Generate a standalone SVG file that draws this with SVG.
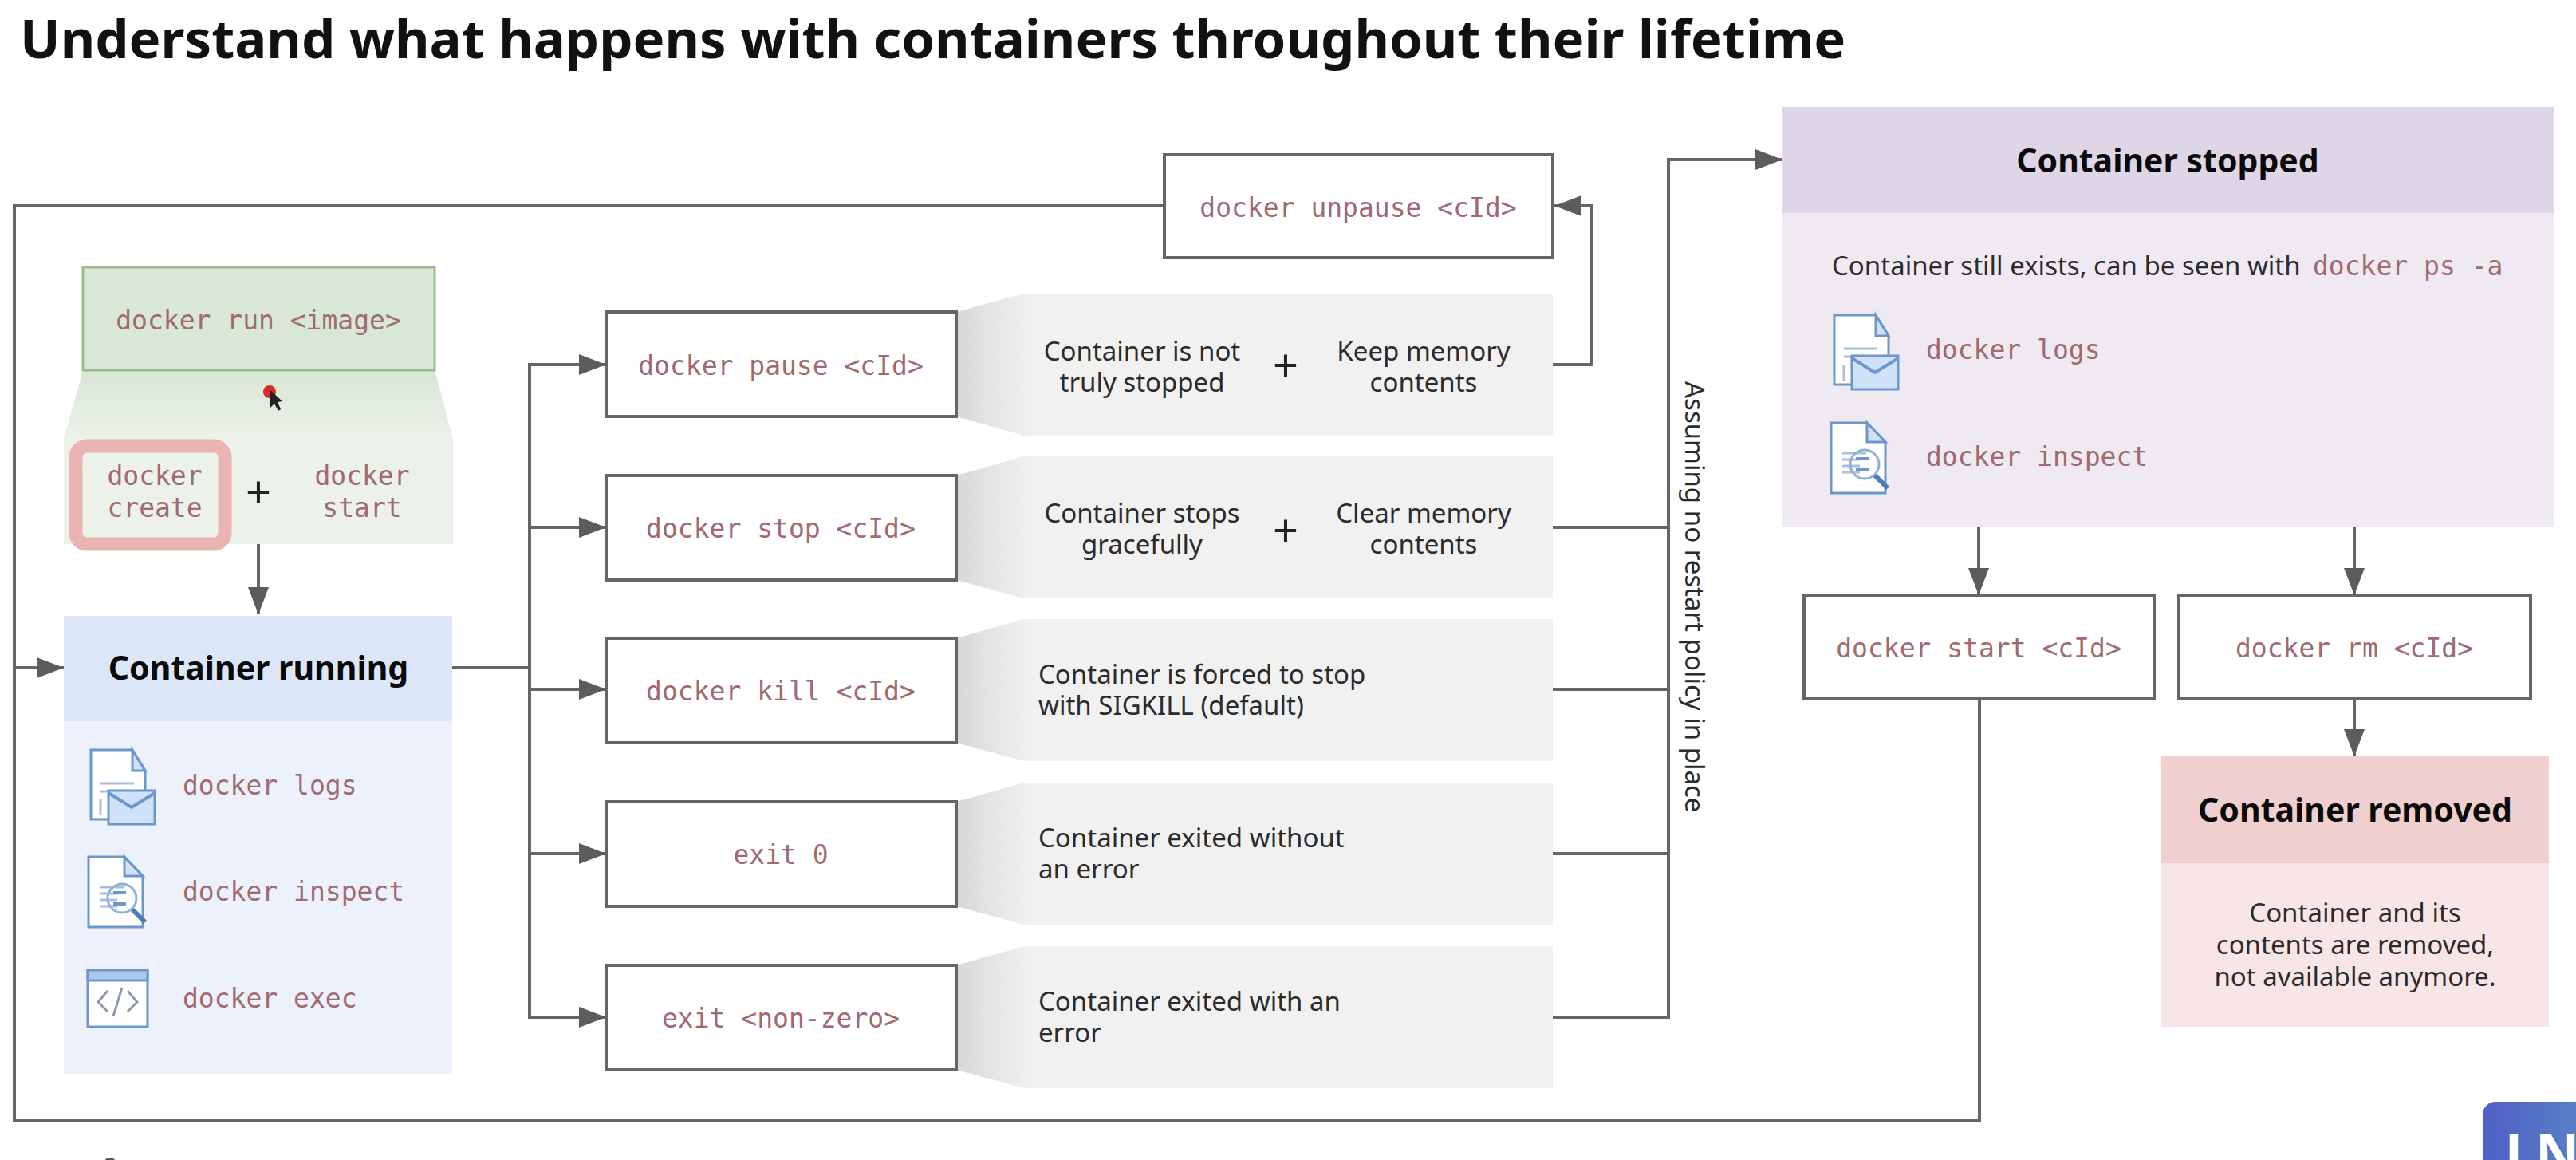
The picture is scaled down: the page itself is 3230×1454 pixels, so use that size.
<svg xmlns="http://www.w3.org/2000/svg" width="3230" height="1454" viewBox="0 0 3230 1454">
<style>
.mono{font-family:"DejaVu Sans Mono","Liberation Mono",monospace;font-size:33px;fill:#a06a6e}
.body{font-family:"Noto Sans","Open Sans",sans-serif;font-size:33px;fill:#2b2b2b}
.head{font-family:"Noto Sans","Open Sans",sans-serif;font-weight:700;font-size:41px;fill:#0a0a0a;text-anchor:middle}
.mid{text-anchor:middle}
.box{fill:#fff;stroke:#666;stroke-width:4}
.conn{fill:none;stroke:#666;stroke-width:4}
.plus{font-family:"Noto Sans",sans-serif;font-size:56px;fill:#222;text-anchor:middle}
.ic{fill:#fff;stroke:#6c97c9;stroke-width:3}
.icf{fill:#cfe2fa;stroke:#6c97c9;stroke-width:3}
.icl{fill:none;stroke:#a9bfdb;stroke-width:3}
</style>
<defs>
<marker id="arr" markerUnits="userSpaceOnUse" markerWidth="34" markerHeight="26" refX="34" refY="13" orient="auto"><path d="M0 0L34 13L0 26Z" fill="#5c5c5c"/></marker>
<linearGradient id="fade" x1="0" x2="1" y1="0" y2="0"><stop offset="0" stop-color="#d8d8d8"/><stop offset="0.125" stop-color="#f1f1f1"/><stop offset="1" stop-color="#f1f1f1"/></linearGradient>
<linearGradient id="gfade" x1="0" x2="0" y1="0" y2="1"><stop offset="0" stop-color="#d8e6d4"/><stop offset="0.4" stop-color="#ecf2ea"/><stop offset="1" stop-color="#ecf1ea"/></linearGradient>
<linearGradient id="logo" x1="0" x2="1" y1="0" y2="0"><stop offset="0" stop-color="#5060c8"/><stop offset="1" stop-color="#5a8ac0"/></linearGradient>
<symbol id="logs" overflow="visible">
<path class="ic" d="M2 0H54L70 26V87H2Z"/><path class="icf" d="M54 0L70 26H54Z"/>
<path class="icl" d="M14 42H56M14 52H46M14 62v20"/>
<rect class="icf" x="24" y="51" width="58" height="42" fill="#b9d6f6"/><path class="conn" style="stroke:#6c97c9" d="M24 54L53 72L82 54"/>
</symbol>
<symbol id="inspect" overflow="visible">
<path class="ic" d="M0 0H45L68 24V88H0Z"/><path class="icf" d="M45 0L68 24H45Z"/>
<path class="icl" d="M14 38H44M14 46H36M14 54H36M14 62H36"/>
<circle cx="42" cy="52" r="18" fill="none" stroke="#8fb2d8" stroke-width="3"/>
<path d="M31 45H47M31 59H47" stroke="#6c97c9" stroke-width="4"/>
<path d="M55 66L71 82" stroke="#4a7cb5" stroke-width="6"/>
</symbol>
</defs>
<rect width="3230" height="1454" fill="#fff"/>
<text x="25" y="73" font-family="Noto Sans,Open Sans,sans-serif" font-weight="700" font-size="67" fill="#111">Understand what happens with containers throughout their lifetime</text>

<g id="connectors">
<path class="conn" d="M1460 258H18V1404H2482V876"/>
<path class="conn" marker-end="url(#arr)" d="M18 837H80"/>
<path class="conn" marker-end="url(#arr)" d="M324 682V770"/>
<path class="conn" d="M567 837H664"/>
<path class="conn" marker-end="url(#arr)" d="M664 837V457H760"/>
<path class="conn" marker-end="url(#arr)" d="M664 661H760"/>
<path class="conn" marker-end="url(#arr)" d="M664 864H760"/>
<path class="conn" marker-end="url(#arr)" d="M664 837V1275H760"/>
<path class="conn" marker-end="url(#arr)" d="M664 1070H760"/>
<path class="conn" marker-end="url(#arr)" d="M1947 457H1996V258H1949"/>
<path class="conn" marker-end="url(#arr)" d="M1947 1275H2092V200H2235"/>
<path class="conn" d="M1947 661H2092M1947 864H2092M1947 1070H2092"/>
<path class="conn" marker-end="url(#arr)" d="M2481 660V746"/>
<path class="conn" marker-end="url(#arr)" d="M2952 660V746"/>
<path class="conn" marker-end="url(#arr)" d="M2952 876V948"/>
</g>

<g id="docker-run">
<path d="M104 464H545L568 550V682H80V550Z" fill="url(#gfade)"/>
<rect x="104" y="335" width="441" height="129" fill="#d9e8d6" stroke="#9cbb90" stroke-width="3"/>
<text class="mono mid" x="324" y="413">docker run &lt;image&gt;</text>
<rect x="95" y="559" width="187" height="123" rx="14" fill="none" stroke="#e9b4b2" stroke-width="17"/>
<text class="mono mid" x="194" y="608">docker</text><text class="mono mid" x="194" y="648">create</text>
<text class="plus" x="324" y="637">+</text>
<text class="mono mid" x="454" y="608">docker</text><text class="mono mid" x="454" y="648">start</text>
<circle cx="338" cy="491" r="8" fill="#d42a2a"/><path d="M339 489L339 511L344 506L349 515L352 513L348 504L354 503Z" fill="#222"/>
</g>

<g id="container-running">
<rect x="80" y="772" width="487" height="574" fill="#ecf1fb"/><rect x="80" y="772" width="487" height="132" fill="#dbe6f8"/>
<text class="head" x="324" y="852">Container running</text>
<use href="#logs" x="112" y="940"/><text class="mono" x="229" y="996">docker logs</text>
<use href="#inspect" x="111" y="1074"/><text class="mono" x="229" y="1129">docker inspect</text>
<g><rect class="ic" x="110" y="1216" width="75" height="71"/><rect x="110" y="1216" width="75" height="13" fill="#a9c8ee" stroke="#6c97c9" stroke-width="3"/><path d="M135 1242L123 1256L135 1268M160 1242L172 1256L160 1268M153 1238L142 1274" fill="none" stroke="#8a9bb0" stroke-width="3"/></g>
<text class="mono" x="229" y="1263">docker exec</text>
</g>

<g id="docker-unpause"><rect class="box" x="1460" y="194" width="487" height="129"/><text class="mono mid" x="1703" y="272">docker unpause &lt;cId&gt;</text></g>

<g id="docker-pause">
<path d="M1199 391L1284 368H1947V546H1284L1199 522Z" fill="url(#fade)"/>
<rect class="box" x="760" y="391" width="439" height="131"/><text class="mono mid" x="979" y="470">docker pause &lt;cId&gt;</text>
<text class="body mid" x="1432" y="452">Container is not</text><text class="body mid" x="1432" y="491">truly stopped</text>
<text class="plus" x="1612" y="478">+</text>
<text class="body mid" x="1785" y="452">Keep memory</text><text class="body mid" x="1785" y="491">contents</text>
</g>
<g id="docker-stop">
<path d="M1199 596L1284 572H1947V750H1284L1199 727Z" fill="url(#fade)"/>
<rect class="box" x="760" y="596" width="439" height="131"/><text class="mono mid" x="979" y="674">docker stop &lt;cId&gt;</text>
<text class="body mid" x="1432" y="655">Container stops</text><text class="body mid" x="1432" y="694">gracefully</text>
<text class="plus" x="1612" y="685">+</text>
<text class="body mid" x="1785" y="655">Clear memory</text><text class="body mid" x="1785" y="694">contents</text>
</g>
<g id="docker-kill">
<path d="M1199 800L1284 776H1947V954H1284L1199 931Z" fill="url(#fade)"/>
<rect class="box" x="760" y="800" width="439" height="131"/><text class="mono mid" x="979" y="878">docker kill &lt;cId&gt;</text>
<text class="body" x="1302" y="857">Container is forced to stop</text><text class="body" x="1302" y="896">with SIGKILL (default)</text>
</g>
<g id="exit-0">
<path d="M1199 1005L1284 981H1947V1159H1284L1199 1136Z" fill="url(#fade)"/>
<rect class="box" x="760" y="1005" width="439" height="131"/><text class="mono mid" x="979" y="1083">exit 0</text>
<text class="body" x="1302" y="1062">Container exited without</text><text class="body" x="1302" y="1101">an error</text>
</g>
<g id="exit-non-zero">
<path d="M1199 1210L1284 1186H1947V1364H1284L1199 1341Z" fill="url(#fade)"/>
<rect class="box" x="760" y="1210" width="439" height="131"/><text class="mono mid" x="979" y="1288">exit &lt;non-zero&gt;</text>
<text class="body" x="1302" y="1267">Container exited with an</text><text class="body" x="1302" y="1306">error</text>
</g>

<text class="body" transform="translate(2113 478) rotate(90)">Assuming no restart policy in place</text>

<g id="container-stopped">
<rect x="2235" y="134" width="967" height="526" fill="#efe9f2"/><rect x="2235" y="134" width="967" height="133" fill="#ded6e7"/>
<text class="head" x="2718" y="216">Container stopped</text>
<text class="body" x="2297" y="345">Container still exists, can be seen with</text><text class="mono" x="2900" y="345">docker ps -a</text>
<use href="#logs" x="2298" y="395"/><text class="mono" x="2415" y="450">docker logs</text>
<use href="#inspect" x="2296" y="530"/><text class="mono" x="2415" y="584">docker inspect</text>
</g>
<g id="docker-start"><rect class="box" x="2262" y="746" width="439" height="130"/><text class="mono mid" x="2481" y="824">docker start &lt;cId&gt;</text></g>
<g id="docker-rm"><rect class="box" x="2732" y="746" width="441" height="130"/><text class="mono mid" x="2952" y="824">docker rm &lt;cId&gt;</text></g>
<g id="container-removed">
<rect x="2710" y="948" width="486" height="339" fill="#f8e6e6"/><rect x="2710" y="948" width="486" height="134" fill="#f0d0ce"/>
<text class="head" x="2953" y="1030">Container removed</text>
<text class="body mid" x="2953" y="1156">Container and its</text><text class="body mid" x="2953" y="1196">contents are removed,</text><text class="body mid" x="2953" y="1236">not available anymore.</text>
</g>
<g id="logo-badge">
<rect x="3113" y="1381" width="160" height="110" rx="16" fill="url(#logo)"/>
<text x="3141" y="1470" font-family="Noto Sans,sans-serif" font-weight="700" font-size="68" fill="#fff">LN</text>
</g>
<ellipse cx="138" cy="1454" rx="6" ry="2.5" fill="#555"/>
</svg>
